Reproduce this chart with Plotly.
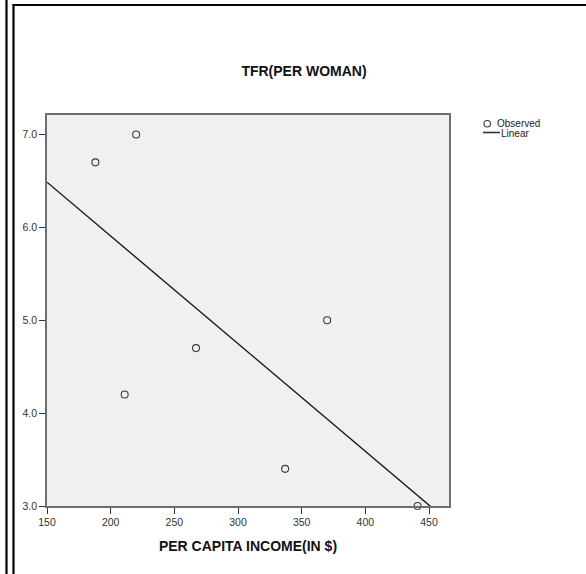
"""
TFR (per woman) vs per capita income - observed points with linear fit
"""

import numpy as np
import plotly.graph_objects as go

income = [188, 220, 211, 267, 337, 370, 441]
tfr = [6.7, 7.0, 4.2, 4.7, 3.4, 5.0, 3.0]

x_ticks = [150, 200, 250, 300, 350, 400, 450]
y_ticks = [3.0, 4.0, 5.0, 6.0, 7.0]

x_range = [150, 465.7]
y_range = [3.0, 7.21]

# linear fit (least squares) drawn across the axis range
slope, intercept = np.polyfit(income, tfr, 1)
fit_x = np.array(x_range)
fit_y = intercept + slope * fit_x

fig = go.Figure()

fig.add_trace(go.Scatter(
    x=income, y=tfr, mode='markers', name='Observed',
    marker=dict(symbol='circle-open', size=7, color='#3a3a3a',
                line=dict(width=1.1, color='#3a3a3a')),
    cliponaxis=False
))
fig.add_trace(go.Scatter(
    x=fit_x, y=fit_y, mode='lines', name='Linear',
    line=dict(color='#1a1a1a', width=1.4)
))

# plot area in pixels: left 47, right 449, top 115, bottom 506
L, R, T, B = 47, 449, 115, 506
W, H = 586, 574


def px_x(p):
    return (p - L) / (R - L)


def px_y(p):
    return (B - p) / (B - T)


shapes = [
    # outer cell borders (double line at left, line on top)
    dict(type='line', xref='paper', yref='paper', x0=px_x(6.5), x1=px_x(6.5),
         y0=px_y(0), y1=px_y(H), line=dict(color='black', width=2.2)),
    dict(type='line', xref='paper', yref='paper', x0=px_x(13.5), x1=px_x(13.5),
         y0=px_y(4), y1=px_y(H), line=dict(color='black', width=2.2)),
    dict(type='line', xref='paper', yref='paper', x0=px_x(12.5), x1=px_x(W),
         y0=px_y(5), y1=px_y(5), line=dict(color='black', width=2.2)),
    # legend symbols
    dict(type='circle', xref='paper', yref='paper',
         x0=px_x(484), x1=px_x(490.5), y0=px_y(120.5), y1=px_y(127),
         line=dict(color='#3a3a3a', width=1.1)),
    dict(type='line', xref='paper', yref='paper', x0=px_x(483), x1=px_x(500),
         y0=px_y(132.5), y1=px_y(132.5), line=dict(color='#333333', width=1.6)),
]

legend_font = dict(family='Liberation Sans, Arial, sans-serif', size=10, color='#222222')
annotations = [
    dict(text='Observed', xref='paper', yref='paper', x=px_x(495), y=px_y(124),
         xanchor='left', yanchor='middle', showarrow=False, font=legend_font),
    dict(text='Linear', xref='paper', yref='paper', x=px_x(499), y=px_y(133),
         xanchor='left', yanchor='middle', showarrow=False, font=legend_font),
]

tick_font = dict(family='Liberation Sans, Arial, sans-serif', size=10.5, color='#333333')
bold_font = dict(family='Liberation Sans, Arial, sans-serif', size=14, color='#111111')

fig.update_layout(
    width=W, height=H,
    margin=dict(l=L, r=W - R, t=T, b=H - B, pad=0),
    paper_bgcolor='white',
    plot_bgcolor='#f0f0f0',
    showlegend=False,
    title=dict(text='<b>TFR(PER WOMAN)</b>', font=bold_font,
               xref='container', yref='container',
               x=304 / W, y=1 - 71 / H, xanchor='center', yanchor='middle'),
    shapes=shapes,
    annotations=annotations,
)

fig.update_xaxes(
    range=x_range, tickvals=x_ticks, ticks='outside', ticklen=6,
    tickcolor='#333333', tickwidth=1.2, tickfont=tick_font,
    showgrid=False, zeroline=False,
    showline=True, linecolor='#6e6e6e', linewidth=1.6, mirror=True,
    title=dict(text='<b>PER CAPITA INCOME(IN $)</b>', font=bold_font, standoff=14),
)
fig.update_yaxes(
    range=y_range, tickvals=y_ticks, tickformat='.1f', ticks='outside', ticklen=6,
    tickcolor='#333333', tickwidth=1.2, tickfont=tick_font,
    showgrid=False, zeroline=False,
    showline=True, linecolor='#6e6e6e', linewidth=1.6, mirror=True,
)

# drop the browser's default page margin so the figure sits at the top-left corner
fig.write_html("out.html", config={'displayModeBar': False},
               post_script="document.body.style.margin='0';document.body.style.overflow='hidden';")
